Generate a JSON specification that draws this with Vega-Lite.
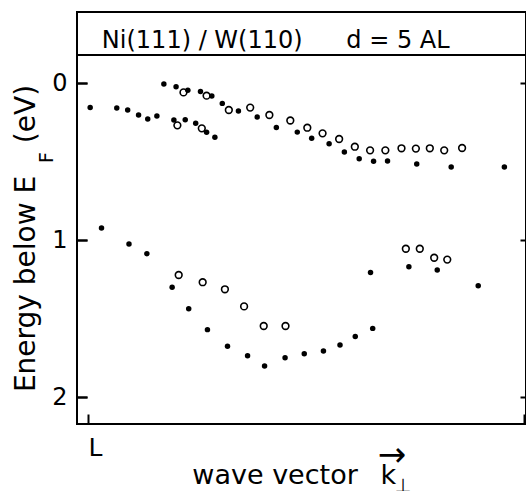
{
  "$schema": "https://vega.github.io/schema/vega-lite/v6.json",
  "autosize": {"type": "none"},
  "padding": {"left": 77, "top": 12, "right": 0, "bottom": 67},
  "width": 449,
  "height": 412,
  "config": {
    "font": "DejaVu Sans",
    "view": {"stroke": "black", "strokeWidth": 2}
  },
  "datasets": {
    "points": [
      {"k": 0.005, "E": 0.154, "type": "filled"},
      {"k": 0.066, "E": 0.157, "type": "filled"},
      {"k": 0.091, "E": 0.170, "type": "filled"},
      {"k": 0.116, "E": 0.202, "type": "filled"},
      {"k": 0.137, "E": 0.228, "type": "filled"},
      {"k": 0.158, "E": 0.209, "type": "filled"},
      {"k": 0.174, "E": 0.004, "type": "filled"},
      {"k": 0.202, "E": 0.022, "type": "filled"},
      {"k": 0.229, "E": 0.045, "type": "filled"},
      {"k": 0.258, "E": 0.053, "type": "filled"},
      {"k": 0.284, "E": 0.081, "type": "filled"},
      {"k": 0.308, "E": 0.128, "type": "filled"},
      {"k": 0.345, "E": 0.176, "type": "filled"},
      {"k": 0.388, "E": 0.215, "type": "filled"},
      {"k": 0.432, "E": 0.282, "type": "filled"},
      {"k": 0.480, "E": 0.311, "type": "filled"},
      {"k": 0.513, "E": 0.350, "type": "filled"},
      {"k": 0.553, "E": 0.385, "type": "filled"},
      {"k": 0.588, "E": 0.438, "type": "filled"},
      {"k": 0.622, "E": 0.480, "type": "filled"},
      {"k": 0.655, "E": 0.497, "type": "filled"},
      {"k": 0.687, "E": 0.495, "type": "filled"},
      {"k": 0.754, "E": 0.514, "type": "filled"},
      {"k": 0.833, "E": 0.533, "type": "filled"},
      {"k": 0.955, "E": 0.533, "type": "filled"},
      {"k": 0.197, "E": 0.234, "type": "filled"},
      {"k": 0.223, "E": 0.232, "type": "filled"},
      {"k": 0.247, "E": 0.255, "type": "filled"},
      {"k": 0.272, "E": 0.312, "type": "filled"},
      {"k": 0.291, "E": 0.344, "type": "filled"},
      {"k": 0.031, "E": 0.922, "type": "filled"},
      {"k": 0.094, "E": 1.024, "type": "filled"},
      {"k": 0.135, "E": 1.085, "type": "filled"},
      {"k": 0.193, "E": 1.299, "type": "filled"},
      {"k": 0.231, "E": 1.436, "type": "filled"},
      {"k": 0.274, "E": 1.569, "type": "filled"},
      {"k": 0.320, "E": 1.675, "type": "filled"},
      {"k": 0.366, "E": 1.735, "type": "filled"},
      {"k": 0.405, "E": 1.801, "type": "filled"},
      {"k": 0.452, "E": 1.748, "type": "filled"},
      {"k": 0.496, "E": 1.722, "type": "filled"},
      {"k": 0.540, "E": 1.705, "type": "filled"},
      {"k": 0.578, "E": 1.667, "type": "filled"},
      {"k": 0.613, "E": 1.612, "type": "filled"},
      {"k": 0.653, "E": 1.561, "type": "filled"},
      {"k": 0.648, "E": 1.205, "type": "filled"},
      {"k": 0.736, "E": 1.168, "type": "filled"},
      {"k": 0.801, "E": 1.189, "type": "filled"},
      {"k": 0.895, "E": 1.289, "type": "filled"},
      {"k": 0.219, "E": 0.058, "type": "open"},
      {"k": 0.272, "E": 0.079, "type": "open"},
      {"k": 0.323, "E": 0.170, "type": "open"},
      {"k": 0.372, "E": 0.155, "type": "open"},
      {"k": 0.416, "E": 0.202, "type": "open"},
      {"k": 0.464, "E": 0.237, "type": "open"},
      {"k": 0.503, "E": 0.283, "type": "open"},
      {"k": 0.538, "E": 0.319, "type": "open"},
      {"k": 0.576, "E": 0.355, "type": "open"},
      {"k": 0.612, "E": 0.404, "type": "open"},
      {"k": 0.647, "E": 0.427, "type": "open"},
      {"k": 0.682, "E": 0.427, "type": "open"},
      {"k": 0.719, "E": 0.414, "type": "open"},
      {"k": 0.752, "E": 0.416, "type": "open"},
      {"k": 0.784, "E": 0.414, "type": "open"},
      {"k": 0.817, "E": 0.427, "type": "open"},
      {"k": 0.858, "E": 0.412, "type": "open"},
      {"k": 0.205, "E": 0.268, "type": "open"},
      {"k": 0.261, "E": 0.287, "type": "open"},
      {"k": 0.208, "E": 1.221, "type": "open"},
      {"k": 0.263, "E": 1.267, "type": "open"},
      {"k": 0.314, "E": 1.312, "type": "open"},
      {"k": 0.358, "E": 1.421, "type": "open"},
      {"k": 0.403, "E": 1.546, "type": "open"},
      {"k": 0.453, "E": 1.546, "type": "open"},
      {"k": 0.729, "E": 1.054, "type": "open"},
      {"k": 0.761, "E": 1.054, "type": "open"},
      {"k": 0.794, "E": 1.111, "type": "open"},
      {"k": 0.824, "E": 1.123, "type": "open"}
    ],
    "labels": [
      {"part": "band", "k": 0.262, "E": -0.223, "text": "Ni(111) / W(110)"},
      {"part": "band", "k": 0.711, "E": -0.223, "text": "d = 5 AL"},
      {"part": "ytitle", "k": -0.1216, "E": 1.278, "text": "Energy below E"},
      {"part": "ytitle", "k": -0.1216, "E": 0.196, "text": "(eV)"},
      {"part": "ysub", "k": -0.0803, "E": 0.473, "text": "F"},
      {"part": "xtitle", "k": 0.429, "E": 2.552, "text": "wave vector"},
      {"part": "xtitle", "k": 0.689, "E": 2.552, "text": "k"},
      {"part": "arrow", "k": 0.697, "E": 2.44, "text": "→"},
      {"part": "xsub", "k": 0.7225, "E": 2.603, "text": "⊥"}
    ],
    "divider": [{"E": -0.18, "k": -0.02523, "k2": 1.00459}]
  },
  "encoding": {
    "x": {"field": "k", "type": "quantitative",
          "scale": {"domain": [-0.02523, 1.00459], "nice": false, "zero": false},
          "axis": {"title": null, "grid": false, "domain": false, "values": [0, 1], "labelExpr": "datum.value < 0.5 ? 'L' : 'Γ'", "offset": -10, "ticks": true, "tickSize": 10, "tickWidth": 2, "tickColor": "black", "labelColor": "black", "labelFontSize": 25, "labelPadding": 11, "labelAlign": "left", "labelDx": -4, "labelFlush": false, "labelOverlap": false}},
    "y": {"field": "E", "type": "quantitative",
          "scale": {"domain": [-0.454, 2.17], "reverse": true, "nice": false, "zero": false},
          "axis": {"title": null, "grid": true, "gridColor": "black", "gridWidth": 2, "gridOpacity": 1, "gridDash": [10, 433, 6, 0], "domain": false, "values": [0, 1, 2], "format": "d", "offset": -10, "ticks": true, "tickSize": 10, "tickWidth": 2, "tickColor": "black", "labelColor": "black", "labelFontSize": 24, "labelPadding": 10, "labelFlush": false, "labelOverlap": false}}
  },
  "layer": [
    {
      "data": {"name": "points"},
      "transform": [{"filter": "datum.type === 'filled'"}],
      "mark": {"type": "point", "shape": "circle", "filled": true, "size": 30, "color": "black", "opacity": 1}
    },
    {
      "data": {"name": "points"},
      "transform": [{"filter": "datum.type === 'open'"}],
      "mark": {"type": "point", "shape": "circle", "filled": false, "size": 45, "stroke": "black", "strokeWidth": 1.6, "opacity": 1}
    },
    {
      "data": {"name": "divider"},
      "mark": {"type": "rule", "color": "black", "strokeWidth": 2},
      "encoding": {"x2": {"field": "k2"}}
    },
    {
      "data": {"name": "labels"},
      "transform": [{"filter": "datum.part === 'band'"}],
      "mark": {"type": "text", "fontSize": 24, "align": "center", "baseline": "alphabetic", "color": "black"},
      "encoding": {"text": {"field": "text"}}
    },
    {
      "data": {"name": "labels"},
      "transform": [{"filter": "datum.part === 'ytitle'"}],
      "mark": {"type": "text", "fontSize": 28, "angle": 270, "align": "center", "baseline": "alphabetic", "color": "black"},
      "encoding": {"text": {"field": "text"}}
    },
    {
      "data": {"name": "labels"},
      "transform": [{"filter": "datum.part === 'ysub'"}],
      "mark": {"type": "text", "fontSize": 19, "angle": 270, "align": "center", "baseline": "alphabetic", "color": "black"},
      "encoding": {"text": {"field": "text"}}
    },
    {
      "data": {"name": "labels"},
      "transform": [{"filter": "datum.part === 'xtitle'"}],
      "mark": {"type": "text", "fontSize": 27, "align": "center", "baseline": "alphabetic", "color": "black"},
      "encoding": {"text": {"field": "text"}}
    },
    {
      "data": {"name": "labels"},
      "transform": [{"filter": "datum.part === 'arrow'"}],
      "mark": {"type": "text", "fontSize": 34, "align": "center", "baseline": "alphabetic", "color": "black"},
      "encoding": {"text": {"field": "text"}}
    },
    {
      "data": {"name": "labels"},
      "transform": [{"filter": "datum.part === 'xsub'"}],
      "mark": {"type": "text", "fontSize": 19, "align": "center", "baseline": "alphabetic", "color": "black"},
      "encoding": {"text": {"field": "text"}}
    }
  ]
}
